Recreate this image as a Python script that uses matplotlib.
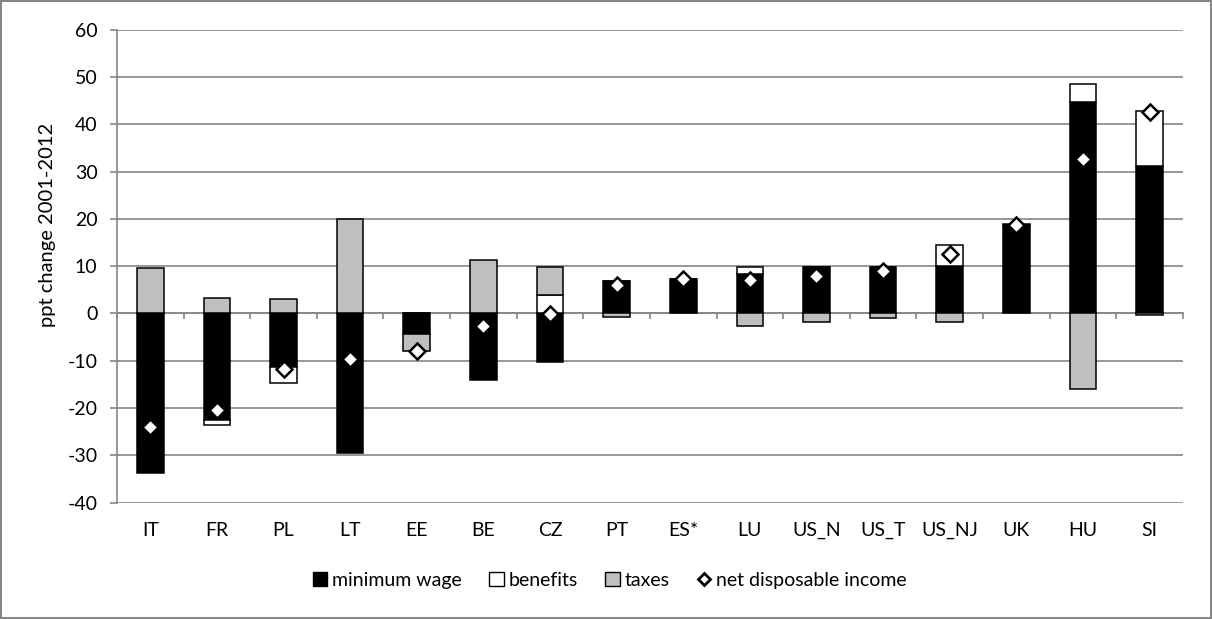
import numpy as np
import matplotlib
matplotlib.use("Agg")
import matplotlib.pyplot as plt
from matplotlib.patches import Patch
from matplotlib.lines import Line2D

plt.rcParams['font.family'] = ['Lato', 'DejaVu Sans']
plt.rcParams['font.size'] = 14
plt.rcParams['axes.unicode_minus'] = False

countries = ['IT', 'FR', 'PL', 'LT', 'EE', 'BE', 'CZ', 'PT', 'ES*', 'LU',
             'US_N', 'US_T', 'US_NJ', 'UK', 'HU', 'SI']
min_wage = [-33.7, -22.5, -11.3, -29.6, -4.4, -14.1, -10.2, 6.9, 7.2, 8.3,
            9.9, 9.9, 10.0, 18.7, 44.7, 31.2]
benefits = [0.0, -1.1, -3.4, 0.0, 0.0, 0.0, 4.0, 0.0, 0.0, 1.6,
            0.0, 0.0, 4.4, 0.0, 3.8, 11.6]
taxes = [9.6, 3.2, 3.0, 19.9, -3.5, 11.4, 5.9, -0.7, 0.0, -2.7,
         -1.9, -0.9, -1.9, 0.2, -15.9, -0.3]
net_income = [-24.0, -20.5, -11.8, -9.7, -7.9, -2.7, -0.1, 6.0, 7.2, 7.0,
              7.9, 9.0, 12.5, 18.8, 32.6, 42.6]

grid_col = '#868686'

fig = plt.figure(figsize=(12.12, 6.19), dpi=100, edgecolor=grid_col, linewidth=1.5)
ax = fig.add_axes([0.0965, 0.188, 0.8795, 0.764])

x = np.arange(len(countries))
pos = np.zeros(len(x))
neg = np.zeros(len(x))
for vals, col in [(min_wage, 'black'), (benefits, 'white'), (taxes, '#BFBFBF')]:
    v = np.array(vals)
    bottom = np.where(v >= 0, pos, neg)
    ax.bar(x, v, 0.4, bottom=bottom, color=col, edgecolor='black', linewidth=1.1, zorder=3)
    pos = pos + np.where(v >= 0, v, 0)
    neg = neg + np.where(v < 0, v, 0)

ax.plot(x, net_income, linestyle='none', marker='D', markersize=8.5,
        markerfacecolor='white', markeredgecolor='black', markeredgewidth=1.8, zorder=5)

ax.set_xlim(-0.5, len(x) - 0.5)
ax.set_ylim(-40, 60)
ax.set_yticks(np.arange(-40, 61, 10))
ax.yaxis.grid(True, color=grid_col, linewidth=1.2)
ax.set_axisbelow(True)
for s in ['top', 'right', 'bottom']:
    ax.spines[s].set_visible(False)
ax.spines['left'].set_color(grid_col)
ax.spines['left'].set_linewidth(1.2)
ax.tick_params(axis='y', length=5, color=grid_col, width=1.2, pad=9, labelsize=14)
ax.set_xticks(x)
ax.set_xticklabels(countries)
ax.tick_params(axis='x', length=0, pad=14, labelsize=14)
ax.set_ylabel('ppt change 2001-2012', fontsize=14.5)
ax.yaxis.set_label_coords(-0.057, 0.587)

# horizontal axis drawn at zero with tick marks between categories
sec = ax.secondary_xaxis(0.4)
sec.set_xticks(np.arange(-0.5, len(x), 1.0))
sec.set_xticklabels([])
sec.tick_params(length=4, color=grid_col, width=1.2)
sec.spines['bottom'].set_color(grid_col)
sec.spines['bottom'].set_linewidth(1.2)

handles = [Patch(facecolor='black', edgecolor='black', label='minimum wage'),
           Patch(facecolor='white', edgecolor='black', label='benefits'),
           Patch(facecolor='#BFBFBF', edgecolor='black', label='taxes'),
           Line2D([], [], linestyle='none', marker='D', markersize=6.5,
                  markerfacecolor='white', markeredgecolor='black',
                  markeredgewidth=2.0, label='net disposable income')]
fig.legend(handles=handles, loc='center', bbox_to_anchor=(0.503, 0.062), ncol=4,
           frameon=False, handlelength=0.75, handleheight=0.75, handletextpad=0.25,
           columnspacing=1.4, fontsize=14)

fig.savefig('out.png', dpi=100, edgecolor=fig.get_edgecolor())
